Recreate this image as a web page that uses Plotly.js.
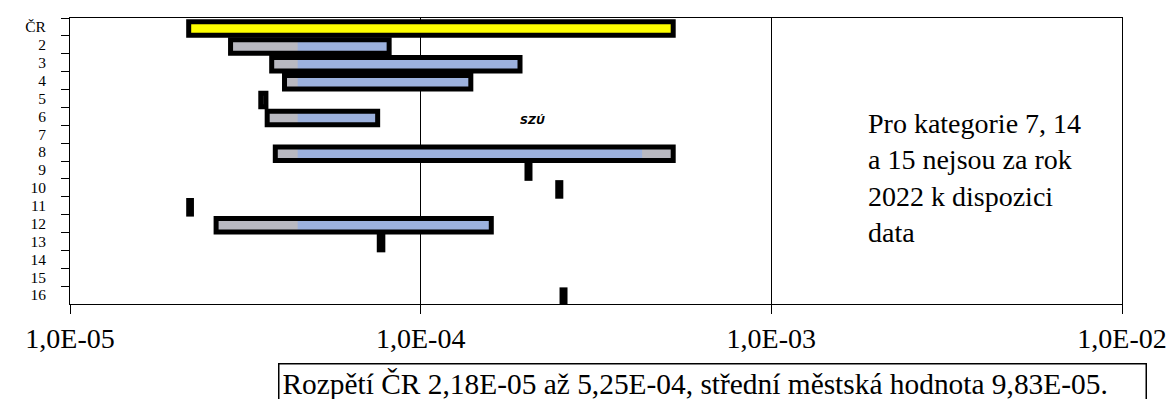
<!DOCTYPE html>
<html>
<head>
<meta charset="utf-8">
<script src="https://cdn.plot.ly/plotly-3.0.1.min.js"></script>
<style>
html,body{margin:0;padding:0;background:#fff;}
#chart{width:1169px;height:399px;}
</style>
</head>
<body>
<div id="chart"></div>
<script>
// ---- data ----
const categories = ['ČR','2','3','4','5','6','7','8','9','10','11','12','13','14','15','16'];
const minValues = [2.18e-5, 2.87e-5, 3.76e-5, 4.09e-5, 3.50e-5, 3.65e-5, null, 3.85e-5, 2.01e-4, 2.46e-4, 2.18e-5, 2.61e-5, 7.62e-5, null, null, 2.53e-4];
const maxValues = [5.25e-4, 8.13e-5, 1.92e-4, 1.39e-4, 3.62e-5, 7.54e-5, null, 5.25e-4, 2.05e-4, 2.51e-4, 2.22e-5, 1.59e-4, 7.80e-5, null, null, 2.58e-4];
const tickValues = [1e-5, 1e-4, 1e-3, 1e-2];
const tickLabels = ['1,0E-05', '1,0E-04', '1,0E-03', '1,0E-02'];
const noteText = 'Pro kategorie 7, 14<br>a 15 nejsou za rok<br>2022 k dispozici<br>data';
const summaryText = 'Rozpětí ČR 2,18E-05 až 5,25E-04, střední městská hodnota 9,83E-05.';
const logoText = 'SZÚ';

// ---- style ----
const GRAY_LO = 4.46e-5, GRAY_HI = 4.28e-4;   // where the bar fill turns from grey to blue
const BAR_W = 0.76;
const BAR_OFF = -BAR_W / 2 + 0.09;
const COL_GRAY = '#b9b9c1';
const COL_BLUE = '#9cb1dd';
const COL_YELLOW = '#ffff00';

const n = categories.length;
const has = i => minValues[i] != null && maxValues[i] != null;

function barTrace(bases, sizes, fill, lineW, lineC) {
  return {
    type: 'bar', orientation: 'h', y: categories, base: bases, x: sizes,
    width: BAR_W, offset: BAR_OFF,
    marker: {color: fill, line: {width: lineW, color: lineC}},
    hoverinfo: 'skip', showlegend: false
  };
}

const grayBase = [], graySize = [], blueBase = [], blueSize = [], yelBase = [], yelSize = [], outBase = [], outSize = [];
for (let i = 0; i < n; i++) {
  if (!has(i)) {
    grayBase.push(null); graySize.push(null); blueBase.push(null); blueSize.push(null);
    yelBase.push(null); yelSize.push(null); outBase.push(null); outSize.push(null);
    continue;
  }
  const lo = minValues[i], hi = maxValues[i];
  outBase.push(lo); outSize.push(hi - lo);
  if (i === 0) {
    yelBase.push(lo); yelSize.push(hi - lo);
    grayBase.push(null); graySize.push(null); blueBase.push(null); blueSize.push(null);
  } else {
    yelBase.push(null); yelSize.push(null);
    grayBase.push(lo); graySize.push(hi - lo);
    const b0 = Math.max(lo, GRAY_LO), b1 = Math.min(hi, GRAY_HI);
    if (b1 > b0) { blueBase.push(b0); blueSize.push(b1 - b0); }
    else { blueBase.push(null); blueSize.push(null); }
  }
}

const traces = [
  barTrace(grayBase, graySize, COL_GRAY, 0, COL_GRAY),
  barTrace(blueBase, blueSize, COL_BLUE, 0, COL_BLUE),
  barTrace(yelBase, yelSize, COL_YELLOW, 0, COL_YELLOW),
  barTrace(outBase, outSize, 'rgba(0,0,0,0)', 5, '#000000')
];

const FONT = 'Liberation Serif, Times New Roman, serif';

const layout = {
  width: 1169, height: 399,
  margin: {l: 70, r: 47, t: 18, b: 95, pad: 0},
  paper_bgcolor: '#ffffff', plot_bgcolor: '#ffffff',
  barmode: 'overlay', showlegend: false,
  font: {family: FONT, color: '#000000'},
  xaxis: {
    type: 'log', range: [-5, -2],
    tickvals: tickValues, ticktext: tickLabels,
    ticks: 'outside', ticklen: 9, tickwidth: 1, tickcolor: '#000',
    tickfont: {family: FONT, size: 28, color: '#000'},
    showgrid: true, gridcolor: '#000', gridwidth: 1,
    showline: true, linecolor: '#000', linewidth: 1, mirror: true,
    zeroline: false, fixedrange: true
  },
  yaxis: {
    type: 'category', categoryorder: 'array', categoryarray: categories,
    range: [n - 0.5, -0.5],
    tickmode: 'linear', tick0: 0, dtick: 1,
    ticks: 'outside', tickson: 'boundaries', ticklen: 8, tickwidth: 1, tickcolor: '#000',
    tickfont: {family: FONT, size: 15.5, color: '#000'},
    ticklabelstandoff: 20,
    showgrid: false, showline: true, linecolor: '#000', linewidth: 1, mirror: true,
    zeroline: false, fixedrange: true
  },
  annotations: [
    {
      text: noteText, xref: 'paper', yref: 'paper',
      x: (866 - 70) / 1052, y: (304 - 106) / 286, xanchor: 'left', yanchor: 'top',
      align: 'left', showarrow: false,
      font: {family: FONT, size: 28, color: '#000'}
    },
    {
      text: summaryText, xref: 'paper', yref: 'paper',
      x: (278 - 70) / 1052, y: (304 - 363) / 286, xanchor: 'left', yanchor: 'top',
      align: 'left', showarrow: false, width: 860,
      bordercolor: '#000', borderwidth: 1.5, borderpad: 3, bgcolor: '#ffffff',
      font: {family: FONT, size: 29.4, color: '#000'}
    },
    {
      text: '<b><i>' + logoText + '</i></b>', xref: 'paper', yref: 'paper',
      x: (532 - 70) / 1052, y: (304 - 121) / 286, xanchor: 'center', yanchor: 'middle',
      showarrow: false,
      font: {family: 'DejaVu Sans, sans-serif', size: 11, color: '#000'}
    }
  ]
};

Plotly.newPlot('chart', traces, layout, {displayModeBar: false, staticPlot: true});
</script>
</body>
</html>
